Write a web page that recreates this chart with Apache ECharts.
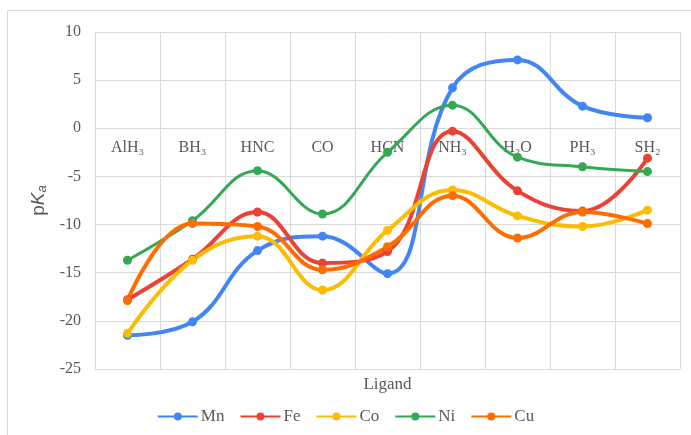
<!DOCTYPE html>
<html>
<head>
<meta charset="utf-8">
<script src="https://cdn.jsdelivr.net/npm/echarts@6/dist/echarts.min.js"></script>
<style>html,body{margin:0;padding:0;background:#fff;}#c{width:691px;height:435px;}</style>
</head>
<body>
<div id="c"></div>
<script>
const categories = ['AlH₃','BH₃','HNC','CO','HCN','NH₃','H₂O','PH₃','SH₂'];
const yTicks = [10,5,0,-5,-10,-15,-20,-25];
const mn = [-21.5,-20.1,-12.7,-11.2,-15.1,4.2,7.1,2.3,1.1];
const fe = [-17.8,-13.6,-8.7,-14.0,-12.8,-0.3,-6.5,-8.6,-3.1];
const co = [-21.3,-13.7,-11.2,-16.8,-10.6,-6.4,-9.1,-10.2,-8.5];
const ni = [-13.7,-9.6,-4.4,-8.9,-2.5,2.4,-3.0,-4.0,-4.5];
const cu = [-17.9,-9.9,-10.2,-14.7,-12.3,-7.0,-11.4,-8.7,-9.9];

const font = "'Liberation Serif', 'DejaVu Serif', serif";
const txt = '#595959';
function mk(name, data, color, w) {
  return {
    name, type: 'line', data, smooth: 0.42,
    symbol: 'circle', symbolSize: 9,
    lineStyle: { color, width: w },
    itemStyle: { color },
    emphasis: { disabled: true }
  };
}
const chart = echarts.init(document.getElementById('c'));
chart.setOption({
  animation: false,
  graphic: [{ type: 'rect', shape: { x: 7.5, y: 10.5, width: 700, height: 440 }, style: { fill: 'none', stroke: '#d9d9d9', lineWidth: 1 }, silent: true }],
  grid: { left: 95, right: 11, top: 32, bottom: 66 },
  legend: {
    bottom: 5, left: 'center', itemWidth: 40, itemHeight: 10, itemGap: 15,
    textStyle: { fontFamily: font, fontSize: 17, color: txt, padding: [0,0,0,-2] },
    data: ['Mn','Fe','Co','Ni','Cu']
  },
  xAxis: [{
    type: 'category', data: categories, boundaryGap: true, position: 'bottom', offset: -241,
    axisLine: { show: false, onZero: false }, axisTick: { show: false },
    axisLabel: { margin: 12, fontFamily: font, fontSize: 16, color: txt, interval: 0 },
    splitLine: { show: true, interval: 0, lineStyle: { color: '#d9d9d9', width: 1 } }
  }, {
    type: 'category', data: categories, position: 'bottom',
    axisLine: { show: false, onZero: false }, axisTick: { show: false }, axisLabel: { show: false },
    splitLine: { show: false },
    name: 'Ligand', nameLocation: 'middle', nameGap: 7,
    nameTextStyle: { fontFamily: font, fontSize: 17, color: txt }
  }],
  yAxis: {
    type: 'value', min: -25, max: 10, interval: 5,
    axisLine: { show: false }, axisTick: { show: false },
    axisLabel: { margin: 14, fontFamily: font, fontSize: 16, color: txt,
      formatter: v => yTicks.includes(v) ? String(v) : '' },
    splitLine: { lineStyle: { color: '#d9d9d9', width: 1 } },
    name: '{p|p}{k|K}{a|a}', nameLocation: 'middle', nameGap: 46, nameRotate: 90,
    nameTextStyle: {
      color: txt,
      rich: {
        p: { fontFamily: "'Liberation Sans', sans-serif", fontSize: 19, color: txt },
        k: { fontFamily: "'Liberation Sans', sans-serif", fontSize: 19, fontStyle: 'italic', color: txt },
        a: { fontFamily: "'Liberation Sans', sans-serif", fontSize: 13, fontStyle: 'italic', color: txt, verticalAlign: 'bottom', padding: [8,0,0,0] }
      }
    }
  },
  series: [
    mk('Mn', mn, '#4285F4', 4),
    mk('Fe', fe, '#EA4335', 4),
    mk('Co', co, '#FBBC04', 4),
    mk('Ni', ni, '#34A853', 3),
    mk('Cu', cu, '#FF6D01', 4)
  ]
});
</script>
</body>
</html>
